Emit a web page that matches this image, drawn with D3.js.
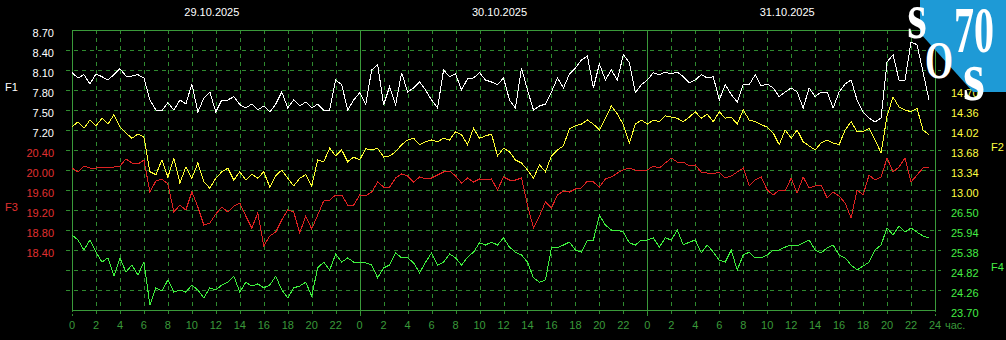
<!DOCTYPE html>
<html>
<head>
<meta charset="utf-8">
<script src="https://cdn.jsdelivr.net/npm/d3@7"></script>
<style>
  body { margin: 0; background: #000; }
  svg text { font-family: "Liberation Sans", Arial, sans-serif; font-size: 11px; }
</style>
</head>
<body>
<script>
// one value every half hour, 3 days (29.10 - 31.10.2025)
var dates = ["29.10.2025", "30.10.2025", "31.10.2025"];
var hourTicks = [0, 2, 4, 6, 8, 10, 12, 14, 16, 18, 20, 22];
var stepHours = 0.5;

var f1 = [8.06,7.98,8.03,7.89,8.04,8.00,7.95,8.03,8.12,8.01,8.01,8.03,7.98,7.65,7.50,7.49,7.61,7.50,7.65,7.59,7.89,7.47,7.68,7.77,7.47,7.65,7.65,7.70,7.58,7.53,7.59,7.50,7.56,7.47,7.59,7.77,7.53,7.65,7.56,7.62,7.53,7.59,7.50,7.50,7.95,7.88,7.50,7.65,
  7.76,7.58,8.10,8.18,7.58,7.85,7.58,8.06,7.77,7.83,7.92,7.80,7.65,7.53,8.10,8.00,8.04,7.80,7.97,7.98,8.06,7.95,7.92,7.88,7.98,7.65,7.53,8.13,7.80,7.50,7.56,7.59,7.77,7.98,7.83,8.04,8.13,8.25,8.31,7.83,8.19,7.95,8.10,7.95,8.33,8.21,7.76,7.88,
  7.95,8.06,8.03,8.07,8.04,8.07,8.00,7.91,7.95,8.03,7.98,8.00,7.65,7.88,7.73,7.62,7.89,7.88,8.03,7.86,7.89,7.83,7.70,7.77,7.83,7.77,7.53,7.83,7.70,7.77,7.77,7.53,7.77,7.89,7.95,7.65,7.47,7.38,7.32,7.38,8.22,8.33,7.95,7.95,8.52,8.48,8.07,7.65];

var f2 = [14.07,14.16,14.05,14.19,14.09,14.22,14.12,14.28,14.07,13.97,13.88,13.95,13.90,13.31,13.26,13.51,13.22,13.54,13.12,13.39,13.20,13.46,13.14,13.03,13.20,13.31,13.37,13.17,13.31,13.17,13.27,13.20,13.31,13.05,13.24,13.34,13.20,13.07,13.20,13.26,13.07,13.51,13.48,13.71,13.58,13.68,13.48,13.56,
  13.51,13.70,13.68,13.71,13.56,13.58,13.65,13.77,13.85,13.88,13.77,13.82,13.85,13.82,13.88,13.85,13.99,13.94,13.77,14.05,13.88,13.92,13.95,13.58,13.71,13.65,13.51,13.46,13.34,13.20,13.43,13.31,13.58,13.68,13.75,14.04,14.09,14.12,14.19,14.12,14.02,14.22,14.43,14.29,14.11,13.80,14.12,14.19,
  14.12,14.19,14.16,14.26,14.24,14.22,14.16,14.24,14.33,14.22,14.29,14.16,14.33,14.22,14.24,14.12,14.36,14.19,14.16,14.11,14.07,13.97,13.77,14.02,13.88,14.02,13.82,13.75,13.68,13.80,13.85,13.80,13.77,14.02,14.16,13.99,13.99,14.05,13.85,13.63,14.26,14.58,14.41,14.36,14.33,14.39,14.02,13.94];

var f3 = [20.04,19.96,20.08,20.04,20.04,20.06,20.04,20.06,20.08,20.22,20.14,20.12,20.20,19.56,19.78,19.82,19.72,19.16,19.30,19.20,19.56,19.26,18.90,18.94,19.12,19.26,19.16,19.28,19.34,19.08,18.84,19.14,18.48,18.68,18.76,19.00,19.20,19.16,18.74,19.08,18.82,19.10,19.38,19.40,19.50,19.50,19.30,19.30,
  19.50,19.48,19.56,19.76,19.66,19.66,19.84,19.92,19.88,19.76,19.86,19.82,19.84,19.90,19.96,19.98,19.88,19.74,19.84,19.76,19.82,19.80,19.82,19.60,19.86,19.80,19.80,19.84,19.30,18.84,19.08,19.36,19.24,19.50,19.58,19.56,19.62,19.64,19.78,19.76,19.66,19.82,19.86,19.94,20.00,20.04,20.00,20.00,
  20.00,20.08,20.04,20.14,20.24,20.16,20.16,20.08,20.10,19.96,19.94,19.92,19.96,19.84,19.88,19.96,20.04,19.68,19.80,19.86,19.60,19.50,19.60,19.58,19.84,19.54,19.86,19.64,19.68,19.70,19.44,19.56,19.48,19.34,19.04,19.60,19.50,19.90,19.80,19.86,20.24,19.96,20.06,20.24,19.76,19.90,20.04,20.06];

var f4 = [25.80,25.66,25.38,25.66,25.32,25.04,25.16,24.65,25.16,24.76,24.96,24.68,25.04,23.84,24.32,24.23,24.54,24.20,24.26,24.20,24.40,24.26,24.04,24.32,24.26,24.40,24.48,24.65,24.20,24.48,24.37,24.43,24.32,24.40,24.65,24.26,24.04,24.32,24.37,24.48,24.09,24.88,25.04,24.82,25.27,25.04,25.16,25.04,
  25.04,25.02,24.96,24.60,24.88,24.96,25.30,25.16,25.16,25.02,24.74,25.04,25.30,24.96,25.04,25.27,25.16,24.96,25.18,25.32,25.58,25.52,25.60,25.52,25.72,25.46,25.32,25.24,25.04,24.60,24.48,24.54,25.44,25.44,25.52,25.60,25.38,25.32,25.66,25.66,26.36,26.08,25.94,25.94,25.88,25.58,25.52,25.66,
  25.66,25.72,25.46,25.72,25.66,25.94,25.52,25.60,25.66,25.30,25.52,25.32,25.10,25.04,25.38,24.82,25.24,25.32,25.16,25.16,25.24,25.38,25.38,25.46,25.52,25.49,25.58,25.66,25.38,25.30,25.44,25.52,25.24,25.16,24.96,24.82,24.93,25.04,25.38,25.52,26.00,25.80,26.05,25.88,26.00,25.88,25.77,25.72];

var f1Ticks = [8.70, 8.40, 8.10, 7.80, 7.50, 7.20];
var f3Ticks = [20.40, 20.00, 19.60, 19.20, 18.80, 18.40];
var f2Ticks = [14.70, 14.36, 14.02, 13.68, 13.34, 13.00];
var f4Ticks = [26.50, 25.94, 25.38, 24.82, 24.26, 23.70];

var W = 1006, H = 340;
// plot frame (note: "top" is taken by window.top, so other names)
var pL = 72, pR = 935, pT = 30, pB = 310;

var svg = d3.select("body").append("svg")
  .attr("width", W).attr("height", H)
  .style("background", "#000");

var x = d3.scaleLinear().domain([0, 72]).range([pL, pR]);
var grid = d3.scaleLinear().domain([0, 14]).range([pT, pB]);
// each series has its own scale, 14 grid steps high
var y1 = d3.scaleLinear().domain([4.50, 8.70]).range([pB, pT]);
var y2 = d3.scaleLinear().domain([10.96, 15.72]).range([pB, pT]);
var y3 = d3.scaleLinear().domain([17.20, 22.80]).range([pB, pT]);
var y4 = d3.scaleLinear().domain([23.70, 31.54]).range([pB, pT]);

var gridCol = "#2f8a2f", borderCol = "#3a9a3a";

// horizontal grid
svg.append("g").selectAll("line")
  .data(d3.range(1, 14))
  .enter().append("line")
  .attr("x1", pL - 6).attr("x2", pR + 6)
  .attr("y1", function (d) { return grid(d) + 0.5; })
  .attr("y2", function (d) { return grid(d) + 0.5; })
  .attr("stroke", gridCol).attr("stroke-dasharray", "4,4");

// vertical grid, every 2 hours, solid at day change
var hours = d3.range(2, 72, 2);
svg.append("g").selectAll("line")
  .data(hours)
  .enter().append("line")
  .attr("x1", function (d) { return Math.round(x(d)) + 0.5; })
  .attr("x2", function (d) { return Math.round(x(d)) + 0.5; })
  .attr("y1", pT).attr("y2", pB + 6)
  .attr("stroke", function (d) { return d % 24 === 0 ? borderCol : gridCol; })
  .attr("stroke-dasharray", function (d) { return d % 24 === 0 ? null : "4,4"; });

// ticks under the axis at day starts and end
svg.append("g").selectAll("line")
  .data([0, 24, 48, 72])
  .enter().append("line")
  .attr("x1", function (d) { return Math.round(x(d)) + 0.5; })
  .attr("x2", function (d) { return Math.round(x(d)) + 0.5; })
  .attr("y1", pB).attr("y2", pB + 6)
  .attr("stroke", gridCol).attr("stroke-dasharray", "2,2");

// frame
svg.append("rect")
  .attr("x", pL + 0.5).attr("y", pT + 0.5)
  .attr("width", Math.round(pR - pL)).attr("height", pB - pT)
  .attr("fill", "none").attr("stroke", borderCol);

// x labels
var xl = [];
dates.forEach(function (d, i) {
  hourTicks.forEach(function (h) { xl.push({h: i * 24 + h, t: h}); });
});
xl.push({h: 72, t: 24});
svg.append("g").selectAll("text")
  .data(xl)
  .enter().append("text")
  .attr("x", function (d) { return x(d.h); })
  .attr("y", 329)
  .attr("text-anchor", "middle")
  .attr("fill", "#3a9a3a")
  .text(function (d) { return d.t; });
svg.append("text")
  .attr("x", x(72) + 10).attr("y", 329)
  .attr("fill", "#3a9a3a").text("час.");

// dates on top
svg.append("g").selectAll("text")
  .data(dates)
  .enter().append("text")
  .attr("x", function (d, i) { return x(i * 24 + 12) - 4; })
  .attr("y", 16)
  .attr("text-anchor", "middle")
  .attr("fill", "#fff")
  .text(function (d) { return d; });

// value axes
var fmt = d3.format(".2f");
function axisLabels(ticks, scale, xpos, anchor, col) {
  svg.append("g").selectAll("text")
    .data(ticks)
    .enter().append("text")
    .attr("x", xpos)
    .attr("y", function (d) { return scale(d) + 7; })
    .attr("text-anchor", anchor)
    .attr("fill", col)
    .text(function (d) { return fmt(d); });
}
axisLabels(f1Ticks, y1, 54, "end", "#ffffff");
axisLabels(f3Ticks, y3, 54, "end", "#e03030");
axisLabels(f2Ticks, y2, 951, "start", "#ffff40");
axisLabels(f4Ticks, y4, 951, "start", "#44ee44");

var names = [
  {t: "F1", x: 5, y: 91, c: "#ffffff"},
  {t: "F3", x: 5, y: 211, c: "#e03030"},
  {t: "F2", x: 991, y: 151, c: "#ffff40"},
  {t: "F4", x: 991, y: 271, c: "#44ee44"}
];
svg.append("g").selectAll("text")
  .data(names)
  .enter().append("text")
  .attr("x", function (d) { return d.x; })
  .attr("y", function (d) { return d.y; })
  .attr("fill", function (d) { return d.c; })
  .text(function (d) { return d.t; });

// the four lines, drawn without smoothing like the original
function drawLine(data, scale, col) {
  var line = d3.line()
    .x(function (d, i) { return x(i * stepHours); })
    .y(function (d) { return scale(d); });
  svg.append("path")
    .datum(data)
    .attr("d", line)
    .attr("fill", "none")
    .attr("stroke", col)
    .attr("stroke-width", 1)
    .attr("shape-rendering", "crispEdges");
}
drawLine(f4, y4, "#3ef03e");
drawLine(f3, y3, "#dd2222");
drawLine(f2, y2, "#ffff33");
drawLine(f1, y1, "#ffffff");

// logo in the corner
var logo = svg.append("g");
logo.append("polygon")
  .attr("points", "920,0 1006,0 1006,92 973,92 920,33")
  .attr("fill", "#1e9ad6");
var letters = [
  {t: "s", x: 917, y: 38, s: 50, k: 1.3},
  {t: "70", x: 974, y: 52, s: 40, k: 1.65},
  {t: "O", x: 939, y: 78, s: 36, k: 1.44},
  {t: "s", x: 974, y: 100, s: 56, k: 1.25}
];
logo.selectAll("text")
  .data(letters)
  .enter().append("text")
  .attr("transform", function (d) { return "translate(" + d.x + "," + d.y + ") scale(1," + d.k + ")"; })
  .attr("text-anchor", "middle")
  .style("font-family", "'Liberation Serif', 'Times New Roman', serif")
  .style("font-weight", "bold")
  .style("font-size", function (d) { return d.s + "px"; })
  .attr("fill", "#fff")
  .text(function (d) { return d.t; });
</script>
</body>
</html>
